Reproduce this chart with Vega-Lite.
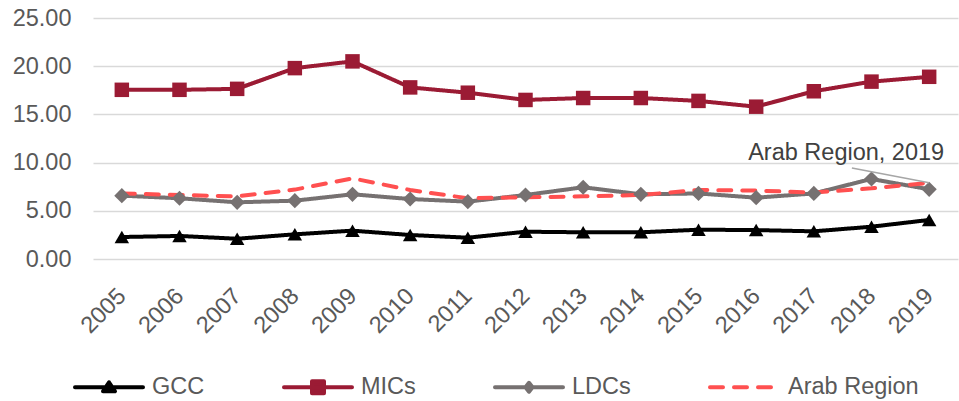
{
  "$schema": "https://vega.github.io/schema/vega-lite/v6.json",
  "width": 865,
  "height": 241,
  "autosize": {"type": "none"},
  "padding": {"left": 93, "top": 18, "right": 1, "bottom": 142},
  "background": "#ffffff",
  "config": {
    "font": "Liberation Sans",
    "view": {"stroke": null},
    "axis": {"labelFont": "Liberation Sans", "labelFontSize": 23.5, "labelColor": "#595959"},
    "legend": {"labelFont": "Liberation Sans"}
  },
  "resolve": {"legend": {"color": "independent", "shape": "independent", "strokeDash": "independent"}},
  "data": {
    "values": [
      {"year": 2005, "series": "GCC", "value": 2.28},
      {"year": 2006, "series": "GCC", "value": 2.39},
      {"year": 2007, "series": "GCC", "value": 2.10},
      {"year": 2008, "series": "GCC", "value": 2.56},
      {"year": 2009, "series": "GCC", "value": 2.94},
      {"year": 2010, "series": "GCC", "value": 2.49},
      {"year": 2011, "series": "GCC", "value": 2.21},
      {"year": 2012, "series": "GCC", "value": 2.83},
      {"year": 2013, "series": "GCC", "value": 2.77},
      {"year": 2014, "series": "GCC", "value": 2.77},
      {"year": 2015, "series": "GCC", "value": 3.04},
      {"year": 2016, "series": "GCC", "value": 3.00},
      {"year": 2017, "series": "GCC", "value": 2.87},
      {"year": 2018, "series": "GCC", "value": 3.35},
      {"year": 2019, "series": "GCC", "value": 4.05},
      {"year": 2005, "series": "MICs", "value": 17.55},
      {"year": 2006, "series": "MICs", "value": 17.55},
      {"year": 2007, "series": "MICs", "value": 17.65},
      {"year": 2008, "series": "MICs", "value": 19.8},
      {"year": 2009, "series": "MICs", "value": 20.5},
      {"year": 2010, "series": "MICs", "value": 17.8},
      {"year": 2011, "series": "MICs", "value": 17.25},
      {"year": 2012, "series": "MICs", "value": 16.5},
      {"year": 2013, "series": "MICs", "value": 16.7},
      {"year": 2014, "series": "MICs", "value": 16.7},
      {"year": 2015, "series": "MICs", "value": 16.4},
      {"year": 2016, "series": "MICs", "value": 15.8},
      {"year": 2017, "series": "MICs", "value": 17.4},
      {"year": 2018, "series": "MICs", "value": 18.4},
      {"year": 2019, "series": "MICs", "value": 18.9},
      {"year": 2005, "series": "LDCs", "value": 6.57},
      {"year": 2006, "series": "LDCs", "value": 6.3},
      {"year": 2007, "series": "LDCs", "value": 5.88},
      {"year": 2008, "series": "LDCs", "value": 6.05},
      {"year": 2009, "series": "LDCs", "value": 6.71},
      {"year": 2010, "series": "LDCs", "value": 6.22},
      {"year": 2011, "series": "LDCs", "value": 5.95},
      {"year": 2012, "series": "LDCs", "value": 6.64},
      {"year": 2013, "series": "LDCs", "value": 7.44},
      {"year": 2014, "series": "LDCs", "value": 6.71},
      {"year": 2015, "series": "LDCs", "value": 6.8},
      {"year": 2016, "series": "LDCs", "value": 6.36},
      {"year": 2017, "series": "LDCs", "value": 6.8},
      {"year": 2018, "series": "LDCs", "value": 8.3},
      {"year": 2019, "series": "LDCs", "value": 7.23},
      {"year": 2005, "series": "Arab Region", "value": 6.8},
      {"year": 2006, "series": "Arab Region", "value": 6.64},
      {"year": 2007, "series": "Arab Region", "value": 6.5},
      {"year": 2008, "series": "Arab Region", "value": 7.2},
      {"year": 2009, "series": "Arab Region", "value": 8.37},
      {"year": 2010, "series": "Arab Region", "value": 7.16},
      {"year": 2011, "series": "Arab Region", "value": 6.3},
      {"year": 2012, "series": "Arab Region", "value": 6.4},
      {"year": 2013, "series": "Arab Region", "value": 6.5},
      {"year": 2014, "series": "Arab Region", "value": 6.64},
      {"year": 2015, "series": "Arab Region", "value": 7.16},
      {"year": 2016, "series": "Arab Region", "value": 7.1},
      {"year": 2017, "series": "Arab Region", "value": 6.9},
      {"year": 2018, "series": "Arab Region", "value": 7.33},
      {"year": 2019, "series": "Arab Region", "value": 7.9}
    ]
  },
  "encoding": {
    "x": {
      "field": "year", "type": "quantitative",
      "scale": {"domain": [2004.5, 2019.5], "nice": false, "zero": false},
      "axis": {
        "title": null, "values": [2005, 2006, 2007, 2008, 2009, 2010, 2011, 2012, 2013, 2014, 2015, 2016, 2017, 2018, 2019],
        "format": "d", "labelAngle": -45, "labelAlign": "right", "labelBaseline": "middle",
        "labelPadding": 33, "grid": false, "domain": false, "ticks": false, "tickSize": 0,
        "labelFlush": false, "labelOverlap": false
      }
    },
    "y": {
      "field": "value", "type": "quantitative",
      "scale": {"domain": [0, 25], "nice": false},
      "axis": {
        "title": null, "values": [0, 5, 10, 15, 20, 25], "format": ".2f",
        "grid": true, "gridColor": "#d9d9d9", "gridWidth": 1.5,
        "domain": false, "ticks": false, "tickSize": 0, "labelPadding": 22
      }
    }
  },
  "layer": [
    {
      "mark": {"type": "line", "strokeWidth": 4, "strokeCap": "round", "strokeJoin": "round"},
      "encoding": {
        "color": {
          "field": "series", "type": "nominal", "legend": null,
          "scale": {"domain": ["GCC", "MICs", "LDCs", "Arab Region"], "range": ["#000000", "#9B1B34", "#767171", "#FF5050"]}
        },
        "strokeDash": {
          "field": "series", "type": "nominal", "legend": null,
          "scale": {"domain": ["GCC", "MICs", "LDCs", "Arab Region"], "range": [[1, 0], [1, 0], [1, 0], [13, 11]]}
        }
      }
    },
    {
      "transform": [{"filter": "datum.series === 'GCC'"}],
      "mark": {"type": "point", "shape": "triangle-up", "filled": true, "size": 210, "opacity": 1},
      "encoding": {"color": {"field": "series", "type": "nominal", "legend": null}}
    },
    {
      "transform": [{"filter": "datum.series === 'MICs'"}],
      "mark": {"type": "point", "shape": "square", "filled": true, "size": 210, "opacity": 1},
      "encoding": {"color": {"field": "series", "type": "nominal", "legend": null}}
    },
    {
      "transform": [{"filter": "datum.series === 'LDCs'"}],
      "mark": {"type": "point", "shape": "diamond", "filled": true, "size": 230, "opacity": 1},
      "encoding": {"color": {"field": "series", "type": "nominal", "legend": null}}
    },
    {
      "mark": {"type": "point", "filled": true, "opacity": 0},
      "encoding": {
        "color": {
          "field": "series", "type": "nominal",
          "legend": {
            "title": null, "orient": "none", "legendX": 4, "legendY": 357, "direction": "horizontal", "columns": 4,
            "padding": 0, "symbolSize": 400, "symbolStrokeWidth": 4, "labelOffset": 31, "columnPadding": 77,
            "labelFontSize": 23.5, "labelColor": "#595959", "labelLimit": 300,
            "encode": {"symbols": {"update": {"stroke": {"scale": "color", "field": "value"}, "strokeWidth": {"value": 4}, "strokeCap": {"value": "round"}, "strokeJoin": {"value": "round"}, "opacity": {"value": 1}}}}
          }
        },
        "shape": {
          "field": "series", "type": "nominal",
          "scale": {
            "domain": ["GCC", "MICs", "LDCs", "Arab Region"],
            "range": [
              "M-3.4,0L3.4,0M0,-0.5L0.6,0.4L-0.6,0.4Z",
              "M-3.4,0L3.4,0M-0.6,-0.6L0.6,-0.6L0.6,0.6L-0.6,0.6Z",
              "M-3.4,0L3.4,0M0,-0.45L0.35,0L0,0.45L-0.35,0Z",
              "M-3.5,0L-2.2,0M-1.1,0L0.2,0M1.3,0L2.6,0"
            ]
          },
          "legend": {
            "title": null, "orient": "none", "legendX": 4, "legendY": 357, "direction": "horizontal", "columns": 4,
            "padding": 0, "symbolSize": 400, "symbolStrokeWidth": 4, "labelOffset": 31, "columnPadding": 77,
            "labelFontSize": 23.5, "labelColor": "#595959", "labelLimit": 300
          }
        }
      }
    },
    {
      "transform": [{"filter": "datum.series === 'Arab Region' && datum.year === 2019"}],
      "mark": {"type": "rule", "color": "#a6a6a6", "strokeWidth": 1.5},
      "encoding": {
        "x": {"datum": 2017.66},
        "y": {"datum": 9.44},
        "x2": {"field": "year"},
        "y2": {"field": "value"}
      }
    },
    {
      "transform": [{"filter": "datum.series === 'Arab Region' && datum.year === 2019"}],
      "mark": {"type": "text", "align": "right", "baseline": "alphabetic", "fontSize": 23.5, "color": "#404040", "font": "Liberation Sans"},
      "encoding": {
        "x": {"datum": 2019.26},
        "y": {"datum": 10.27},
        "text": {"value": "Arab Region, 2019"}
      }
    }
  ]
}
